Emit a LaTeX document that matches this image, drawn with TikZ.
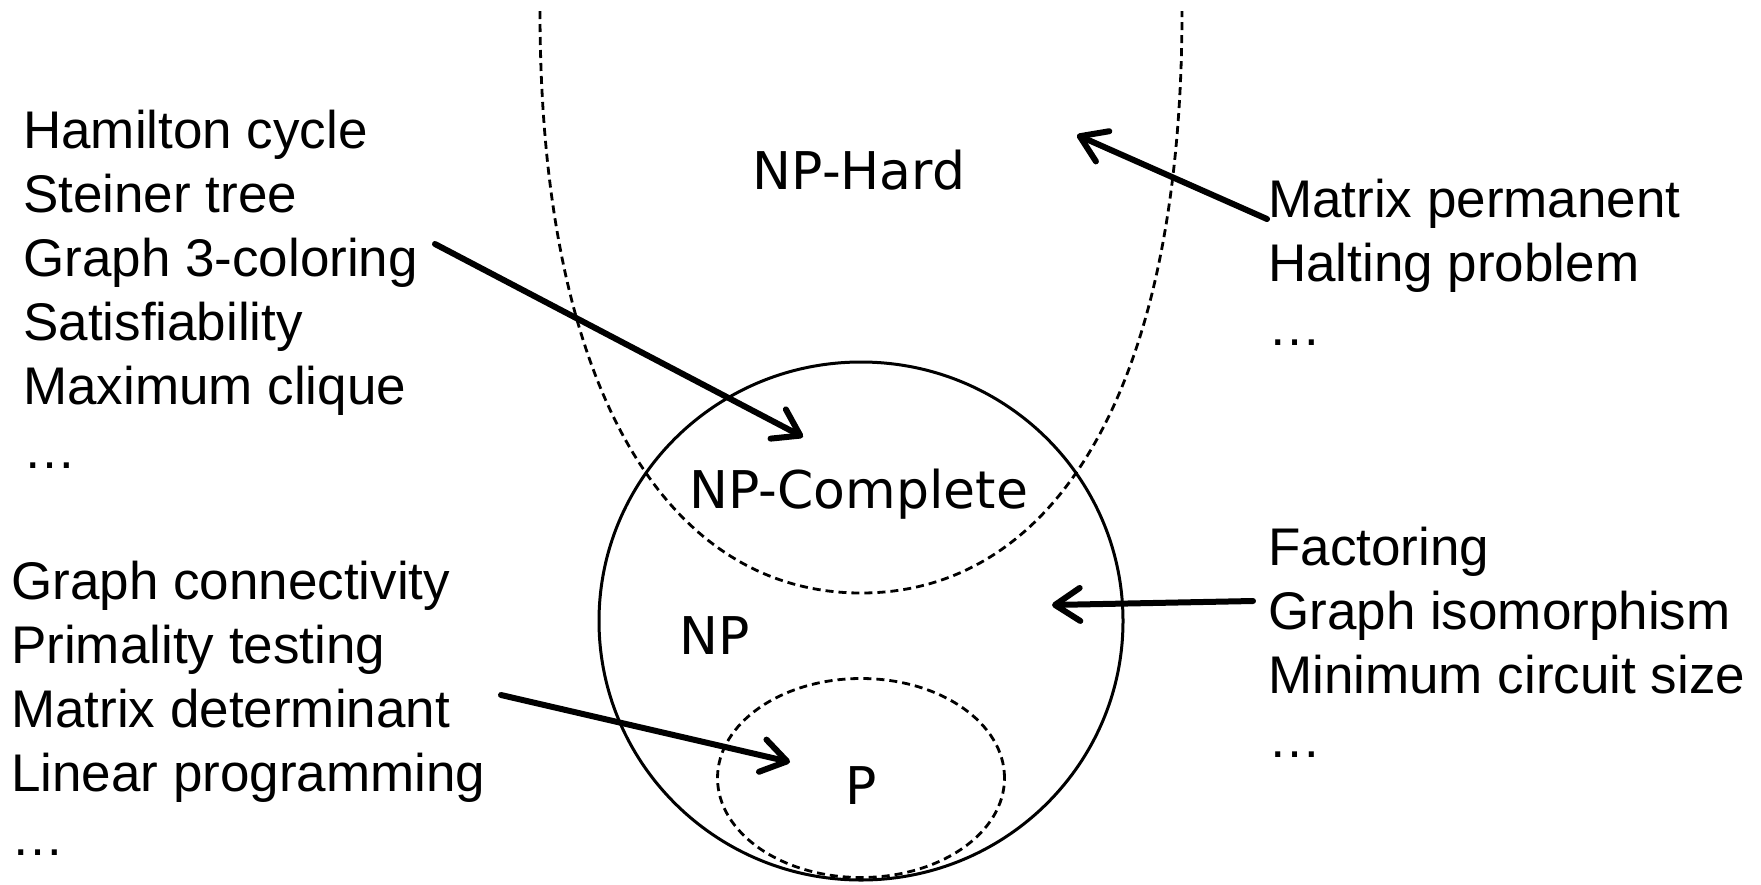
\documentclass[tikz,border=0pt]{standalone}
\usepackage{fontspec}
\setmainfont{Liberation Sans}
\newfontfamily\dejavu{DejaVu Sans}
\usetikzlibrary{arrows.meta,shapes.geometric}
\begin{document}
\begin{tikzpicture}[x=1pt,y=-1pt,
  list/.style={anchor=base west, inner sep=0pt, font=\fontsize{53}{64}\selectfont},
  setlabel/.style={anchor=base, inner sep=0pt, font=\dejavu\fontsize{52}{60}\selectfont},
  solidset/.style={ellipse, draw=black, line width=3pt, inner sep=0pt},
  dashset/.style={draw=black, line width=2.8pt, dash pattern=on 8pt off 5pt},
  pointer/.style={-{Straight Barb[length=25pt,width=33pt,round]}, line width=6pt, line cap=round}
]
\useasboundingbox (0,0) rectangle (1761,884);

% NP-Hard region (open U)
\draw[dashset] (540,11) .. controls (540,400) and (673,593) .. (861,593)
               .. controls (1049,593) and (1182,400) .. (1182,11);
% NP circle
\node[solidset, minimum width=524pt, minimum height=518pt] (npset) at (861,621) {};
% P ellipse
\node[ellipse, dashset, inner sep=0pt, minimum width=287pt, minimum height=199pt] (pset) at (861,778) {};

% set labels
\node[setlabel] (nphard) at (859,189) {NP-Hard};
\node[setlabel] (npc) at (859,508) {NP-Complete};
\node[setlabel] (np) at (715,654) {NP};
\node[setlabel] (p) at (861,804) {P};

% lists
\node[list] (npclist) at (23,148) {\begin{tabular}[t]{@{}l@{}}Hamilton cycle\\Steiner tree\\Graph 3-coloring\\Satisfiability\\Maximum clique\\…\end{tabular}};
\node[list] (plist) at (11,599) {\begin{tabular}[t]{@{}l@{}}Graph connectivity\\Primality testing\\Matrix determinant\\Linear programming\\…\end{tabular}};
\node[list] (hardlist) at (1268,217) {\begin{tabular}[t]{@{}l@{}}Matrix permanent\\Halting problem\\…\end{tabular}};
\node[list] (nplist) at (1268,565) {\begin{tabular}[t]{@{}l@{}}Factoring\\Graph isomorphism\\Minimum circuit size\\…\end{tabular}};

% arrow ends
\coordinate (a1s) at (435,244);
\coordinate (a1e) at (803,437);
\coordinate (a2s) at (1267,219);
\coordinate (a2e) at (1077,135);
\coordinate (a3s) at (1253,601);
\coordinate (a3e) at (1052,605);
\coordinate (a4s) at (501,695);
\coordinate (a4e) at (790,762);

\draw[pointer] (a1s) -- (a1e);
\draw[pointer] (a2s) -- (a2e);
\draw[pointer] (a3s) -- (a3e);
\draw[pointer] (a4s) -- (a4e);
\end{tikzpicture}
\end{document}
